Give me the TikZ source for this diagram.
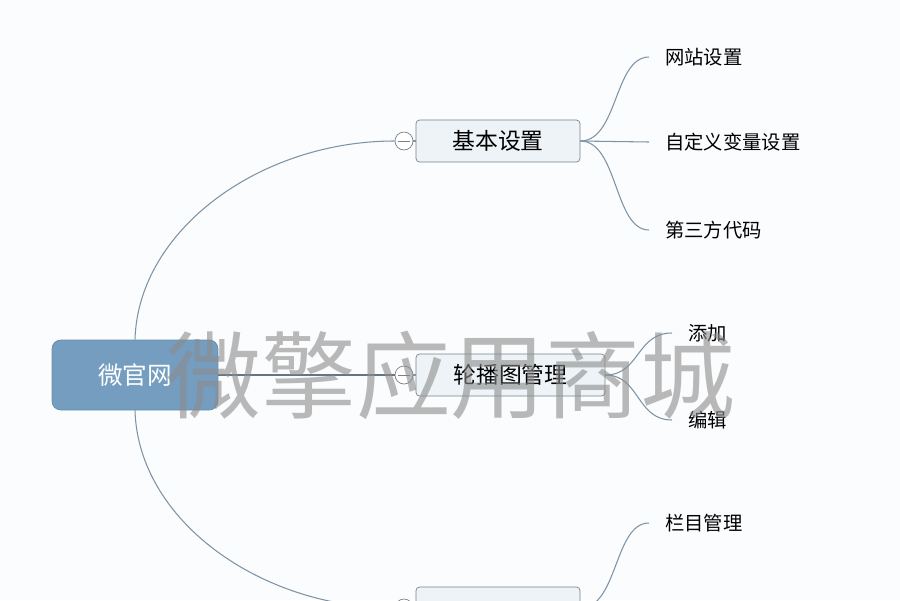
\documentclass[tikz,border=0pt]{standalone}
\usepackage{fontspec}
\setmainfont{Noto Sans CJK SC}
\usepackage{xcolor}

\definecolor{rootblue}{RGB}{116,157,191}
\definecolor{topicfill}{RGB}{237,243,247}
\definecolor{topicline}{RGB}{120,132,142}
\definecolor{linkcol}{RGB}{125,147,166}
\definecolor{markgray}{RGB}{140,140,140}
\definecolor{paper}{RGB}{251,252,253}

\tikzset{
  rootbox/.style={draw=rootblue!90!black, fill=rootblue, rounded corners=5pt, text=white,
    font=\fontsize{14}{16}\selectfont, minimum width=3.32cm, minimum height=1.4cm},
  topicbox/.style={draw=topicline, fill=topicfill, rounded corners=2pt,
    font=\fontsize{13}{15}\selectfont, minimum width=3.28cm, minimum height=0.84cm},
  leaflabel/.style={anchor=west, inner xsep=9pt, font=\fontsize{11}{13}\selectfont},
  toggle/.style={circle, draw=gray, fill=white, minimum size=0.36cm, inner sep=0pt,
    path picture={\draw[gray] ([xshift=-0.12cm]path picture bounding box.center)
      -- ([xshift=0.12cm]path picture bounding box.center);}},
  link/.style={draw=linkcol, line width=0.6pt}
}

\begin{document}
\begin{tikzpicture}[x=0.02cm, y=-0.02cm]
\useasboundingbox (0,0) rectangle (900,600);
\clip (0,0) rectangle (900,600);
\fill[paper] (0,0) rectangle (900,600);

% Root and main topics
\node[rootbox] (root) at (135,375) {微官网};
\node[toggle] (tgBasic) at (404,141) {};
\node[toggle] (tgCarousel) at (404,375) {};
\node[toggle] (tgColumn) at (404,608) {};
\node[topicbox] (basic) at (498,141) {基本设置};
\node[topicbox, minimum width=3.78cm] (carousel) at (510.5,375) {轮播图管理};
\node[topicbox] (column) at (498,608) {};

% Root connectors
\draw[link] (root.north) .. controls (138,230) and (260,141) .. (tgBasic.west);
\draw[link, draw=linkcol!80!black] (root.east) -- (tgCarousel.west);
\draw[link] (root.south) .. controls (138,520) and (260,608) .. (tgColumn.west);
\draw[link] (tgBasic.east) -- (basic.west);
\draw[link] (tgCarousel.east) -- (carousel.west);
\draw[link] (tgColumn.east) -- (column.west);

% Leaves of 基本设置
\node[leaflabel] (site) at (649,57) {网站设置};
\node[leaflabel] (vars) at (649,142) {自定义变量设置};
\node[leaflabel] (third) at (649,230) {第三方代码};
\draw[link] (basic.east) .. controls (618,141) and (614,57) .. (site.west);
\draw[link] (basic.east) -- (vars.west);
\draw[link] (basic.east) .. controls (618,141) and (614,230) .. (third.west);

% Leaves of 轮播图管理
\node[leaflabel] (add) at (672,333) {添加};
\node[leaflabel] (edit) at (672,420) {编辑};
\draw[link] (carousel.east) .. controls (640,375) and (636,333) .. (add.west);
\draw[link] (carousel.east) .. controls (640,375) and (636,420) .. (edit.west);

% Leaf of the bottom topic
\node[leaflabel] (colmgr) at (649,523) {栏目管理};
\draw[link] (column.east) .. controls (618,608) and (614,523) .. (colmgr.west);

% Watermark
\node[text=markgray, opacity=0.6, font=\fontsize{54}{60}\selectfont] (mark) at (451,375) {微擎应用商城};

\end{tikzpicture}
\end{document}
